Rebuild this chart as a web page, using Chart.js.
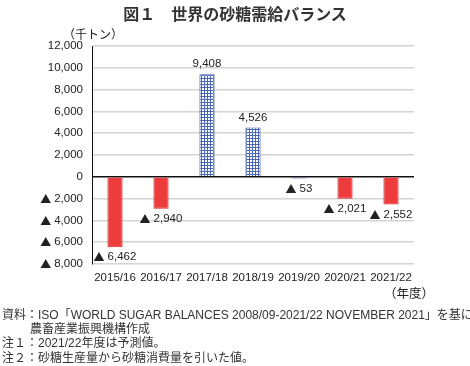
<!DOCTYPE html>
<html>
<head>
<meta charset="utf-8">
<script src="https://cdn.jsdelivr.net/npm/chart.js@4.4.1/dist/chart.umd.min.js"></script>
<style>
  body { margin: 0; background: #fff; }
  #wrap { position: relative; width: 470px; height: 366px; font-family: "Liberation Sans", "Noto Sans CJK JP", sans-serif; color: #222; }
  #chart { position: absolute; left: 0; top: 0; }
  .t { position: absolute; white-space: nowrap; }
  #title { left: 0; width: 470px; top: 1px; text-align: center; font-size: 16px; font-weight: bold; font-family: "Noto Sans CJK JP", sans-serif; color: #333; }
  #unit { left: 63px; top: 25px; font-size: 12px; font-family: "Noto Sans CJK JP", sans-serif; }
  #year { left: 384px; top: 283px; font-size: 12.5px; font-family: "Noto Sans CJK JP", sans-serif; }
  .note { left: 2px; font-size: 12px; color: #333; }
</style>
</head>
<body>
<div id="wrap">
  <canvas id="chart" width="470" height="366"></canvas>
  <div class="t" id="title">図１　世界の砂糖需給バランス</div>
  <div class="t" id="unit">（千トン）</div>
  <div class="t" id="year">（年度）</div>
  <div class="t note" style="top:305px">資料：ISO「WORLD SUGAR BALANCES 2008/09-2021/22 NOVEMBER 2021」を基に</div>
  <div class="t note" style="top:319px; left:30px">農畜産業振興機構作成</div>
  <div class="t note" style="top:333px">注１：2021/22年度は予測値。</div>
  <div class="t note" style="top:348px">注２：砂糖生産量から砂糖消費量を引いた値。</div>
</div>
<script>
'use strict';

var years   = ['2015/16', '2016/17', '2017/18', '2018/19', '2019/20', '2020/21', '2021/22'];
var balance = [-6462, -2940, 9408, 4526, -53, -2021, -2552];
var yTicks  = [-8000, -6000, -4000, -2000, 0, 2000, 4000, 6000, 8000, 10000, 12000];

var numFont = '11.5px "Liberation Sans", sans-serif';
var triFont = '11px "Noto Sans CJK JP", sans-serif';

// Draw a value, negatives get a CJK-style ▲ prefix like the original
function drawValue(ctx, v, x, y, align) {
    var num = Math.abs(v).toLocaleString('en-US');
    ctx.font = numFont;
    var wNum = ctx.measureText(num).width;
    var wTri = 0;
    var gap  = 0;
    if (v < 0) {
        ctx.font = triFont;
        wTri = ctx.measureText('▲').width;
        gap  = 3;
    }
    var total = wTri + gap + wNum;
    var left  = align === 'right' ? x - total : x - total / 2;
    ctx.textAlign = 'left';
    ctx.textBaseline = 'middle';
    if (v < 0) {
        ctx.font = triFont;
        ctx.fillText('▲', left, y);
    }
    ctx.font = numFont;
    ctx.fillText(num, left + wTri + gap, y);
}

// Blue grid hatch for the surplus bars
function makeHatch() {
    var c = document.createElement('canvas');
    c.width = 3;
    c.height = 3;
    var x = c.getContext('2d');
    x.fillStyle = '#ffffff';
    x.fillRect(0, 0, 3, 3);
    x.fillStyle = '#4a66b8';
    x.fillRect(0, 0, 3, 1);
    x.fillRect(0, 0, 1, 3);
    return x.createPattern(c, 'repeat');
}
var hatch = makeHatch();

var barFill   = balance.map(function (v) { return v > -100 ? hatch : '#ee3b3b'; });
var barBorder = balance.map(function (v) { return v > -100 ? '#7f8fc4' : '#d8262b'; });
barBorder[2] = '#3f5cb0';
barBorder[3] = '#3f5cb0';

var textLabels = {
    id: 'textLabels',
    afterDatasetsDraw: function (chart) {
        var ctx  = chart.ctx;
        var meta = chart.getDatasetMeta(0);
        var yScale = chart.scales.y;
        ctx.save();
        ctx.fillStyle = '#222';
        // value labels
        meta.data.forEach(function (bar, i) {
            var v = balance[i];
            var base = yScale.getPixelForValue(0);
            var end  = v >= 0 ? bar.y : Math.max(bar.y, base + 2);
            var y = v >= 0 ? end - 10 : end + 10;
            drawValue(ctx, v, bar.x, y, 'center');
        });
        // y tick labels
        yTicks.forEach(function (t) {
            drawValue(ctx, t, 83, yScale.getPixelForValue(t), 'right');
        });
        ctx.restore();
    }
};

new Chart(document.getElementById('chart'), {
    type: 'bar',
    data: {
        labels: years,
        datasets: [{
            data: balance,
            backgroundColor: barFill,
            borderColor: barBorder,
            borderWidth: 1,
            minBarLength: 2,
            barPercentage: 0.33,
            categoryPercentage: 1
        }]
    },
    options: {
        responsive: false,
        animation: false,
        layout: { padding: { left: 0, top: 46, right: 56, bottom: 0 } },
        plugins: { legend: { display: false }, tooltip: { enabled: false } },
        scales: {
            x: {
                grid: { display: false, drawTicks: false },
                border: { display: false },
                ticks: { color: '#222', padding: 7, maxRotation: 0, font: { size: 11.5, family: '"Liberation Sans", sans-serif' } },
                afterFit: function (scale) { scale.height = 102; }
            },
            y: {
                min: -8000,
                max: 12000,
                afterBuildTicks: function (scale) {
                    scale.ticks = yTicks.map(function (v) { return { value: v }; });
                },
                grid: {
                    drawTicks: false,
                    lineWidth: 1.5,
                    color: function (c) { return c.tick && c.tick.value === 0 ? '#111' : '#d4d4d4'; }
                },
                border: { color: '#111', width: 1 },
                ticks: { display: false },
                afterFit: function (scale) { scale.width = 92; }
            }
        }
    },
    plugins: [textLabels]
});
</script>
</body>
</html>
